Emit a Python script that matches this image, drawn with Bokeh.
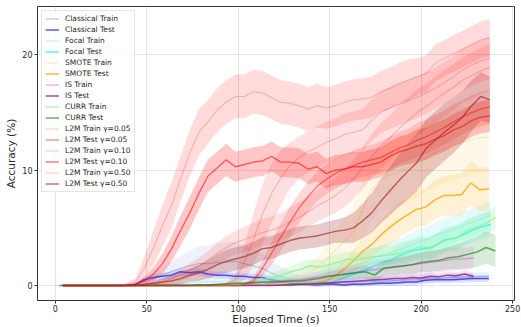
import numpy as np
from bokeh.plotting import figure
from bokeh.models import Range1d, FixedTicker, Legend, LegendItem
from bokeh.embed import file_html
from bokeh.resources import INLINE

# ---------------- data ----------------
x_ticks = [0, 50, 100, 150, 200, 250]
y_ticks = [0, 10, 20]

# time span of each run (start, end) in seconds; 48 evenly spaced epochs each
classical_span = (4.0, 237.0)
focal_span = (4.0, 238.0)
smote_span = (4.0, 237.0)
is_span = (4.0, 228.6)
curr_span = (2.0, 240.6)
l2m_span = (4.0, 237.5)

classical_train = [0, 0, 0, 0, 0, 0, 0, 0, 0.05,
    0.3, 0.6, 0.9, 1.2, 1.5, 1.7, 1.9, 1.9, 2.0, 2.0,
    2.1, 1.9, 1.7, 1.5, 1.1, 0.8, 0.6, 0.4, 0.3, 0.3,
    0.25, 0.25, 0.3, 0.3, 0.35, 0.35, 0.4, 0.4, 0.45, 0.5,
    0.5, 0.6, 0.6, 0.65, 0.7, 0.7, 0.75, 0.8, 0.8]
classical_train_sd = [0, 0, 0, 0, 0, 0, 0, 0, 0.05,
    0.3, 0.5, 0.7, 0.9, 1.1, 1.3, 1.5, 1.6, 1.7, 1.7,
    1.7, 1.6, 1.5, 1.3, 1.1, 0.9, 0.7, 0.5, 0.4, 0.4,
    0.35, 0.35, 0.35, 0.35, 0.35, 0.35, 0.35, 0.35, 0.35, 0.35,
    0.35, 0.35, 0.35, 0.35, 0.35, 0.35, 0.35, 0.35, 0.35]
classical_test = [0, 0, 0, 0, 0, 0, 0, 0, 0.1,
    0.5, 0.7, 0.8, 0.9, 1.2, 1.1, 1.2, 1.0, 0.9, 0.9,
    0.8, 0.8, 0.7, 0.7, 0.5, 0.4, 0.2, 0.1, 0.1, 0.05,
    0.1, 0.1, 0.05, 0.1, 0.1, 0.15, 0.2, 0.2, 0.25, 0.3,
    0.3, 0.45, 0.5, 0.5, 0.5, 0.55, 0.6, 0.6, 0.6]
classical_test_sd = [0, 0, 0, 0, 0, 0, 0, 0, 0.05,
    0.25, 0.3, 0.3, 0.3, 0.3, 0.3, 0.3, 0.3, 0.3, 0.3,
    0.3, 0.3, 0.3, 0.3, 0.3, 0.3, 0.2, 0.15, 0.15, 0.15,
    0.15, 0.15, 0.15, 0.15, 0.2, 0.2, 0.2, 0.25, 0.25, 0.3,
    0.3, 0.3, 0.3, 0.3, 0.3, 0.3, 0.3, 0.3, 0.3]

focal_train = [0, 0, 0, 0, 0, 0, 0, 0, 0,
    0.05, 0.1, 0.1, 0.15, 0.2, 0.2, 0.25, 0.3, 0.3, 0.3,
    0.3, 0.3, 0.3, 0.3, 0.35, 0.4, 0.5, 0.6, 0.8, 0.9,
    1.1, 1.3, 1.5, 1.7, 2.0, 2.3, 2.6, 2.8, 3.1, 3.4,
    3.8, 4.0, 4.4, 4.6, 4.9, 5.2, 5.5, 5.8, 6.1]
focal_train_sd = [0, 0, 0, 0, 0, 0, 0, 0, 0,
    0.1, 0.1, 0.1, 0.1, 0.1, 0.1, 0.1, 0.1, 0.1, 0.1,
    0.3, 0.3, 0.3, 0.3, 0.3, 0.3, 0.3, 0.3, 0.3, 0.3,
    0.6, 0.7, 0.7, 0.8, 0.8, 0.9, 0.9, 1.0, 1.0, 1.0,
    1.1, 1.1, 1.1, 1.2, 1.2, 1.2, 1.2, 1.2, 1.2]
focal_test = [0, 0, 0, 0, 0, 0, 0, 0, 0,
    0, 0, 0, 0.05, 0.05, 0.05, 0.05, 0.05, 0.05, 0.05,
    0.05, 0.05, 0.05, 0.05, 0.05, 0.05, 0.05, 0.05, 0.1, 0.1,
    0.2, 0.4, 0.7, 1.0, 1.3, 1.6, 2.0, 2.2, 2.6, 2.9,
    3.1, 3.2, 3.5, 4.0, 4.1, 4.4, 4.8, 5.1, 5.3]
focal_test_sd = [0, 0, 0, 0, 0, 0, 0, 0, 0,
    0.05, 0.05, 0.05, 0.05, 0.05, 0.05, 0.05, 0.05, 0.05, 0.05,
    0.05, 0.05, 0.05, 0.05, 0.05, 0.05, 0.05, 0.05, 0.1, 0.1,
    0.2, 0.3, 0.4, 0.5, 0.6, 0.7, 0.8, 0.8, 0.9, 0.9,
    1.0, 1.0, 1.0, 1.0, 1.1, 1.1, 1.1, 1.1, 1.1]

smote_train = [0, 0, 0, 0, 0, 0, 0, 0, 0,
    0, 0, 0, 0, 0, 0, 0, 0, 0, 0,
    0, 0, 0, 0, 0.05, 0.1, 0.3, 0.6, 1.0, 1.5,
    2.2, 3.0, 3.8, 4.6, 6.4, 8.3, 9.2, 9.6, 9.8, 10.2,
    10.6, 11.1, 11.5, 11.8, 12.1, 12.4, 12.6, 12.8, 12.9]
smote_train_sd = [0, 0, 0, 0, 0, 0, 0, 0, 0,
    0, 0, 0, 0, 0, 0, 0, 0, 0, 0,
    0, 0, 0, 0, 0.1, 0.2, 0.4, 0.6, 0.8, 1.0,
    1.3, 1.6, 1.9, 2.2, 2.5, 2.7, 2.8, 2.9, 3.0, 3.0,
    3.0, 3.0, 3.0, 3.0, 3.0, 3.0, 3.0, 3.0, 3.0]
smote_test = [0, 0, 0, 0, 0, 0, 0, 0, 0,
    0, 0, 0, 0, 0, 0, 0, 0, 0, 0,
    0, 0, 0.05, 0.05, 0.05, 0.05, 0.1, 0.1, 0.1, 0.2,
    0.4, 0.8, 1.4, 2.1, 2.9, 3.5, 4.3, 5.0, 5.6, 6.1,
    6.6, 6.8, 7.4, 7.8, 7.8, 7.9, 8.9, 8.3, 8.4]
smote_test_sd = [0, 0, 0, 0, 0, 0, 0, 0, 0,
    0, 0, 0, 0, 0, 0, 0, 0, 0, 0,
    0, 0, 0.05, 0.05, 0.05, 0.05, 0.1, 0.1, 0.1, 0.2,
    0.3, 0.5, 0.7, 0.9, 1.1, 1.2, 1.3, 1.4, 1.5, 1.5,
    1.6, 1.6, 1.7, 1.7, 1.8, 1.8, 1.9, 1.9, 1.9]

is_train = [0, 0, 0, 0, 0, 0, 0, 0, 0,
    0, 0, 0, 0, 0, 0, 0, 0, 0, 0,
    0, 0, 0.05, 0.1, 0.15, 0.2, 0.3, 0.4, 0.5, 0.6,
    0.7, 0.8, 0.9, 1.0, 1.1, 1.2, 1.3, 1.4, 1.5, 1.6,
    1.7, 1.8, 1.9, 2.0, 2.1, 2.2, 2.3, 2.3, 2.4]
is_train_sd = [0, 0, 0, 0, 0, 0, 0, 0, 0,
    0, 0, 0, 0, 0, 0, 0, 0, 0, 0,
    0, 0, 0.05, 0.1, 0.15, 0.2, 0.25, 0.3, 0.35, 0.4,
    0.45, 0.5, 0.55, 0.6, 0.65, 0.7, 0.75, 0.8, 0.85, 0.9,
    0.9, 0.95, 1.0, 1.0, 1.0, 1.0, 1.0, 1.0, 1.0]
is_test = [0, 0, 0, 0, 0, 0, 0, 0, 0,
    0, 0, 0, 0, 0, 0, 0, 0, 0, 0,
    0, 0, 0, 0, 0, 0, 0.05, 0.05, 0.1, 0.1,
    0.15, 0.2, 0.25, 0.3, 0.35, 0.4, 0.45, 0.5, 0.55, 0.6,
    0.6, 0.7, 0.65, 0.8, 0.75, 0.9, 0.85, 1.0, 0.8]
is_test_sd = [0, 0, 0, 0, 0, 0, 0, 0, 0,
    0, 0, 0, 0, 0, 0, 0, 0, 0, 0,
    0, 0, 0, 0, 0, 0, 0.05, 0.05, 0.1, 0.1,
    0.15, 0.2, 0.2, 0.25, 0.25, 0.3, 0.3, 0.3, 0.3, 0.3,
    0.3, 0.3, 0.3, 0.3, 0.3, 0.3, 0.3, 0.3, 0.3]

curr_train = [0, 0, 0, 0, 0, 0, 0, 0, 0,
    0, 0, 0, 0, 0, 0, 0, 0, 0, 0,
    0.05, 0.1, 0.3, 0.5, 0.7, 0.9, 1.2, 1.4, 1.7, 1.6,
    1.8, 2.0, 2.3, 2.2, 2.4, 2.5, 2.6, 2.7, 2.9, 3.1,
    3.4, 3.2, 3.7, 4.0, 4.2, 4.8, 5.1, 5.4, 5.9]
curr_train_sd = [0, 0, 0, 0, 0, 0, 0, 0, 0,
    0, 0, 0, 0, 0, 0, 0, 0, 0, 0,
    0.05, 0.1, 0.2, 0.3, 0.4, 0.5, 0.5, 0.6, 0.6, 0.6,
    0.7, 0.7, 0.7, 0.7, 0.8, 0.8, 0.8, 0.8, 0.9, 0.9,
    0.9, 0.9, 1.0, 1.0, 1.0, 1.0, 1.0, 1.0, 1.0]
curr_test = [0, 0, 0, 0, 0, 0, 0, 0, 0,
    0, 0, 0, 0, 0, 0, 0.05, 0.05, 0.1, 0.15,
    0.2, 0.2, 0.25, 0.3, 0.3, 0.35, 0.4, 0.4, 0.5, 0.6,
    0.8, 0.9, 1.0, 1.1, 1.2, 0.9, 1.5, 1.6, 1.7, 1.8,
    2.0, 2.1, 2.2, 2.4, 2.5, 2.7, 2.9, 3.3, 3.0]
curr_test_sd = [0, 0, 0, 0, 0, 0, 0, 0, 0,
    0, 0, 0, 0, 0, 0, 0.05, 0.05, 0.05, 0.05,
    0.1, 0.1, 0.1, 0.1, 0.15, 0.15, 0.2, 0.2, 0.25, 0.3,
    0.35, 0.4, 0.45, 0.5, 0.55, 0.6, 0.65, 0.7, 0.75, 0.8,
    0.85, 0.9, 0.95, 1.0, 1.1, 1.2, 1.3, 1.4, 1.4]

l2m_train_005 = [0, 0, 0, 0, 0, 0, 0, 0.1, 0.3,
    1.5, 3.3, 5.2, 7.0, 9.3, 11.5, 13.3, 14.2, 15.2, 15.9,
    16.4, 16.4, 16.8, 16.7, 16.3, 15.9, 15.8, 15.6, 15.3, 15.6,
    15.4, 15.6, 15.9, 16.1, 16.2, 16.3, 16.8, 17.1, 17.5, 17.8,
    18.1, 18.4, 19.3, 19.7, 20.1, 20.5, 20.9, 21.3, 21.5]
l2m_train_005_sd = [0, 0, 0, 0, 0, 0, 0, 0.1, 0.3,
    1.0, 1.5, 1.8, 2.0, 2.0, 2.0, 2.0, 1.9, 1.9, 1.9,
    1.9, 1.9, 1.9, 1.9, 1.9, 1.9, 1.9, 1.9, 1.9, 1.9,
    1.8, 1.8, 1.8, 1.8, 1.8, 1.8, 1.8, 1.8, 1.8, 1.8,
    1.6, 1.6, 1.6, 1.6, 1.6, 1.6, 1.6, 1.6, 1.6]
l2m_test_005 = [0, 0, 0, 0, 0, 0, 0, 0, 0,
    0, 0, 0, 0, 0, 0, 0, 0, 0, 0,
    0, 0.1, 0.4, 1.5, 2.8, 4.2, 5.5, 6.7, 7.7, 8.6,
    9.2, 9.7, 10.1, 10.4, 10.7, 10.9, 11.1, 11.5, 11.9, 12.2,
    12.6, 12.9, 13.3, 13.7, 14.2, 14.6, 15.0, 15.3, 15.5]
l2m_test_005_sd = [0, 0, 0, 0, 0, 0, 0, 0, 0,
    0, 0, 0, 0, 0, 0, 0, 0, 0, 0,
    0, 0.1, 0.3, 0.7, 1.0, 1.2, 1.3, 1.3, 1.3, 1.3,
    1.3, 1.3, 1.3, 1.3, 1.3, 1.3, 1.4, 1.4, 1.4, 1.4,
    1.5, 1.5, 1.5, 1.5, 1.5, 1.5, 1.5, 1.5, 1.5]
l2m_train_010 = [0, 0, 0, 0, 0, 0, 0, 0, 0,
    0, 0, 0, 0, 0, 0, 0, 0, 0, 0.1,
    0.5, 2.0, 4.0, 6.2, 8.0, 9.3, 10.4, 11.1, 11.6, 12.0,
    12.4, 12.7, 13.1, 13.3, 13.5, 14.3, 15.0, 15.4, 15.7, 16.0,
    16.3, 16.7, 17.1, 17.6, 18.1, 18.7, 19.1, 19.5, 19.7]
l2m_train_010_sd = [0, 0, 0, 0, 0, 0, 0, 0, 0,
    0, 0, 0, 0, 0, 0, 0, 0, 0, 0.1,
    0.5, 1.5, 2.3, 2.6, 2.6, 2.4, 2.0, 1.8, 1.8, 1.8,
    1.8, 1.8, 1.8, 1.8, 1.8, 1.8, 1.8, 1.8, 1.8, 1.8,
    1.8, 1.8, 1.8, 1.8, 1.8, 1.8, 1.8, 1.8, 1.8]
l2m_test_010 = [0, 0, 0, 0, 0, 0, 0, 0, 0.1,
    0.4, 1.0, 1.9, 3.2, 4.8, 6.3, 8.0, 9.5, 10.2, 10.9,
    10.3, 10.5, 10.7, 10.8, 11.2, 10.7, 10.7, 10.6, 10.1, 10.3,
    9.7, 10.0, 10.1, 10.3, 10.3, 10.5, 10.7, 11.2, 11.6, 11.8,
    12.1, 12.3, 12.7, 13.0, 13.5, 13.8, 14.3, 14.6, 14.7]
l2m_test_010_sd = [0, 0, 0, 0, 0, 0, 0, 0, 0.1,
    0.3, 0.6, 0.9, 1.1, 1.3, 1.4, 1.4, 1.4, 1.4, 1.4,
    1.3, 1.3, 1.3, 1.3, 1.3, 1.3, 1.3, 1.3, 1.3, 1.3,
    1.3, 1.3, 1.3, 1.3, 1.3, 1.3, 1.3, 1.3, 1.3, 1.3,
    1.4, 1.4, 1.4, 1.4, 1.4, 1.4, 1.4, 1.4, 1.4]
l2m_train_050 = [0, 0, 0, 0, 0, 0, 0, 0, 0,
    0.1, 0.2, 0.3, 0.6, 0.9, 1.3, 1.7, 2.2, 2.8, 3.3,
    3.7, 4.0, 4.3, 4.6, 4.8, 5.1, 5.5, 5.9, 6.4, 6.9,
    7.3, 7.8, 8.4, 9.2, 10.2, 11.2, 12.1, 12.8, 13.6, 14.3,
    15.0, 15.5, 16.1, 16.7, 17.2, 17.8, 18.2, 18.6, 18.9]
l2m_train_050_sd = [0, 0, 0, 0, 0, 0, 0, 0, 0,
    0.1, 0.2, 0.3, 0.4, 0.5, 0.6, 0.7, 0.8, 0.9, 1.0,
    1.0, 1.1, 1.1, 1.2, 1.2, 1.2, 1.3, 1.3, 1.3, 1.4,
    1.4, 1.5, 1.6, 1.7, 1.8, 1.9, 2.0, 2.0, 2.0, 2.0,
    2.0, 2.0, 2.0, 2.0, 2.0, 2.0, 2.0, 2.0, 2.0]
l2m_test_050 = [0, 0, 0, 0, 0, 0, 0, 0, 0,
    0.1, 0.2, 0.3, 0.4, 0.6, 0.9, 1.1, 1.4, 1.8, 2.1,
    2.3, 2.5, 2.8, 3.2, 3.3, 3.6, 3.9, 4.1, 4.2, 4.3,
    4.5, 4.7, 4.8, 5.0, 5.6, 6.3, 7.3, 8.2, 9.1, 9.9,
    10.7, 11.9, 12.6, 13.3, 13.9, 14.6, 15.6, 16.4, 16.1]
l2m_test_050_sd = [0, 0, 0, 0, 0, 0, 0, 0, 0,
    0.1, 0.2, 0.3, 0.4, 0.5, 0.6, 0.7, 0.8, 0.9, 1.0,
    1.0, 1.0, 1.0, 1.0, 1.0, 1.0, 1.0, 1.0, 1.0, 1.0,
    1.0, 1.0, 1.1, 1.3, 1.5, 1.7, 1.9, 2.1, 2.3, 2.4,
    2.5, 2.5, 2.5, 2.5, 2.4, 2.3, 2.2, 2.1, 2.0]

# (label, span, mean, sd, line colour, line alpha, line width, band colour, band alpha)
series = [
    ("Classical Train", classical_span, classical_train, classical_train_sd, "lightsteelblue", 0.9, 1.2, "lightsteelblue", 0.22),
    ("Classical Test", classical_span, classical_test, classical_test_sd, "blue", 0.65, 1.5, "blue", 0.1),
    ("Focal Train", focal_span, focal_train, focal_train_sd, "paleturquoise", 0.75, 1.2, "paleturquoise", 0.3),
    ("Focal Test", focal_span, focal_test, focal_test_sd, "cyan", 0.75, 1.5, "cyan", 0.12),
    ("SMOTE Train", smote_span, smote_train, smote_train_sd, "navajowhite", 0.8, 1.2, "orange", 0.09),
    ("SMOTE Test", smote_span, smote_test, smote_test_sd, "orange", 0.8, 1.5, "orange", 0.16),
    ("IS Train", is_span, is_train, is_train_sd, "violet", 0.8, 1.2, "violet", 0.2),
    ("IS Test", is_span, is_test, is_test_sd, "purple", 0.7, 1.5, "purple", 0.1),
    ("CURR Train", curr_span, curr_train, curr_train_sd, "lightgreen", 0.85, 1.2, "lightgreen", 0.25),
    ("CURR Test", curr_span, curr_test, curr_test_sd, "green", 0.6, 1.5, "green", 0.15),
    ("L2M Train γ=0.05", l2m_span, l2m_train_005, l2m_train_005_sd, "red", 0.22, 1.1, "red", 0.14),
    ("L2M Test γ=0.05", l2m_span, l2m_test_005, l2m_test_005_sd, "red", 0.45, 1.4, "red", 0.15),
    ("L2M Train γ=0.10", l2m_span, l2m_train_010, l2m_train_010_sd, "red", 0.22, 1.1, "red", 0.12),
    ("L2M Test γ=0.10", l2m_span, l2m_test_010, l2m_test_010_sd, "red", 0.55, 1.4, "red", 0.22),
    ("L2M Train γ=0.50", l2m_span, l2m_train_050, l2m_train_050_sd, "red", 0.22, 1.1, "red", 0.12),
    ("L2M Test γ=0.50", l2m_span, l2m_test_050, l2m_test_050_sd, "brown", 0.7, 1.4, "brown", 0.25),
]

FONT = "DejaVu Sans"

p = figure(width=521, height=327, output_backend="svg", toolbar_location=None,
           x_range=Range1d(-9.7, 251.0), y_range=Range1d(-1.3, 24.2),
           min_border_left=37, min_border_right=7, min_border_top=6, min_border_bottom=0,
           background_fill_color="white", border_fill_color="white")

p.outline_line_color = "#333333"
p.outline_line_width = 1
p.outline_line_alpha = 1

for ax in (p.xaxis[0], p.yaxis[0]):
    ax.axis_line_color = None
    ax.major_tick_line_color = "#333333"
    ax.major_tick_out = 3
    ax.major_tick_in = 0
    ax.minor_tick_line_color = None
    ax.major_label_text_font = FONT
    ax.major_label_text_font_size = "8px"
    ax.major_label_text_color = "#262626"
    ax.major_label_standoff = 2
    ax.axis_label_text_font = FONT
    ax.axis_label_text_font_size = "10.5px"
    ax.axis_label_text_font_style = "normal"
    ax.axis_label_text_color = "#262626"
    ax.axis_label_standoff = 2
p.xaxis[0].major_label_standoff = 1
p.xaxis[0].axis_label_standoff = -2

p.xaxis[0].ticker = FixedTicker(ticks=x_ticks)
p.yaxis[0].ticker = FixedTicker(ticks=y_ticks)
p.xaxis[0].axis_label = "Elapsed Time (s)"
p.yaxis[0].axis_label = "Accuracy (%)"

p.xgrid.ticker = FixedTicker(ticks=x_ticks)
p.ygrid.ticker = FixedTicker(ticks=y_ticks)
for g in (p.xgrid[0], p.ygrid[0]):
    g.grid_line_color = "#e4e4e4"
    g.grid_line_width = 1

items = []
for label, span, mean, sd, lc, la, lw, bc, ba in series:
    m = np.array(mean, dtype=float)
    s = np.array(sd, dtype=float)
    t = np.linspace(span[0], span[1], len(m))
    p.varea(x=t, y1=m - s, y2=m + s, fill_color=bc, fill_alpha=ba)
    r = p.line(t, m, line_color=lc, line_alpha=la, line_width=lw)
    items.append(LegendItem(label=label, renderers=[r]))

legend = Legend(items=items, location="top_left")
legend.label_text_font = FONT
legend.label_text_font_size = "7.5px"
legend.label_text_color = "#262626"
legend.label_height = 9
legend.glyph_height = 9
legend.glyph_width = 14
legend.label_standoff = 6
legend.spacing = 2
legend.padding = 3
legend.margin = 4
legend.border_line_color = "#cccccc"
legend.border_line_width = 1
legend.background_fill_color = "white"
legend.background_fill_alpha = 0.8
p.add_layout(legend)

open("out.html", "w").write(file_html(p, INLINE))
